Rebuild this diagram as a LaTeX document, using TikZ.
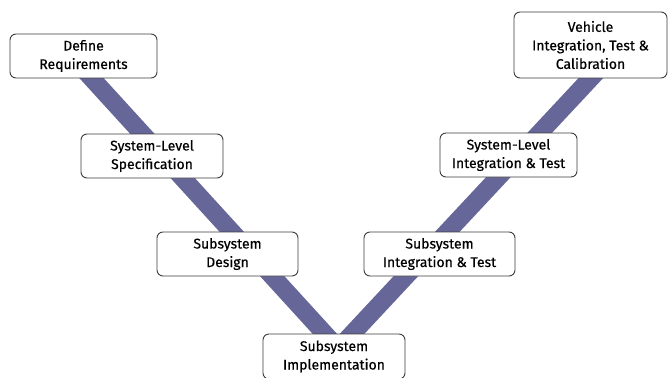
\documentclass[tikz,border=0pt]{standalone}
\usepackage{fontspec}
\setmainfont{Fira Sans}
\newfontfamily\boxfont{Fira Sans}[FakeBold=0.5]
\definecolor{vcol}{RGB}{102,102,153}
\definecolor{bcol}{RGB}{60,60,60}
\begin{document}
\begin{tikzpicture}[x=1pt,y=-1pt,
 stage/.style={draw=bcol, line width=0.9pt, fill=white, rounded corners=6pt, align=center, inner sep=0pt, font=\boxfont\fontsize{14}{18.5}\selectfont},
 vline/.style={draw=vcol, line width=18pt, line join=miter}]
\useasboundingbox (0,0) rectangle (668,377);
\clip (0,0) rectangle (668,377);
\coordinate (vl) at (75,60);
\coordinate (vb) at (338.3,348.6);
\coordinate (vr) at (607.7,60);
\draw[vline] (vl) -- (vb) -- (vr);
\node[stage, minimum width=147pt, minimum height=44pt] (req) at (83.5,56) {Define\\Requirements};
\node[stage, minimum width=142pt, minimum height=44pt] (spec) at (152,156) {System-Level\\Specification};
\node[stage, minimum width=141pt, minimum height=44pt] (design) at (227.5,254) {Subsystem\\Design};
\node[stage, minimum width=142pt, minimum height=45pt] (impl) at (334,356.5) {Subsystem\\Implementation};
\node[stage, minimum width=151pt, minimum height=44pt] (integ) at (439.5,254) {Subsystem\\Integration \& Test};
\node[stage, minimum width=137pt, minimum height=44pt] (sysint) at (508.5,155) {System-Level\\Integration \& Test};
\node[stage, minimum width=153pt, minimum height=66pt] (veh) at (590.5,45) {Vehicle\\Integration, Test \&\\Calibration};
\end{tikzpicture}
\end{document}
